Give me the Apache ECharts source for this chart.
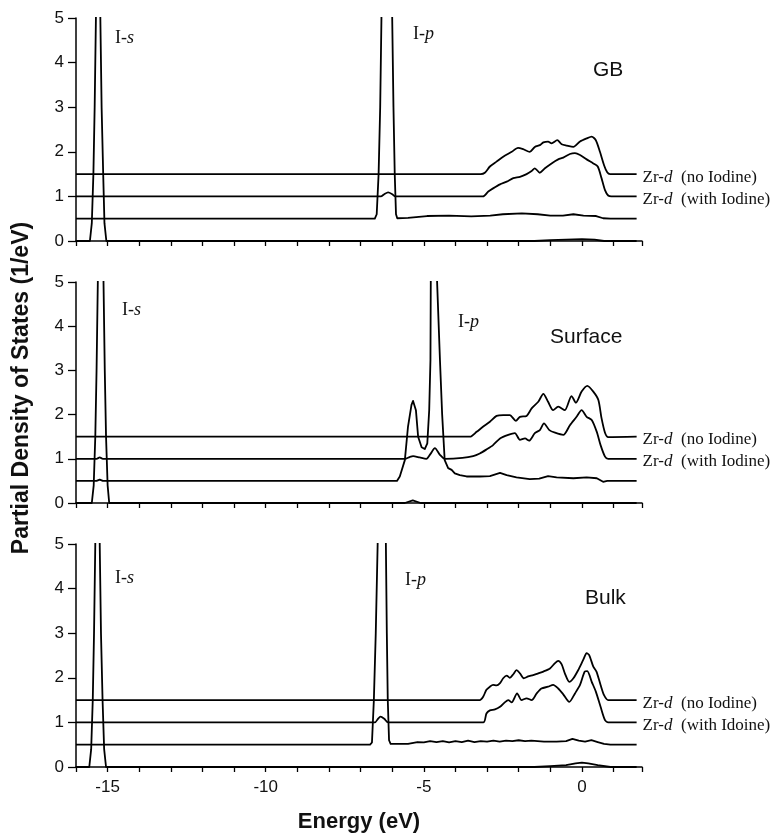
<!DOCTYPE html>
<html>
<head>
    <meta charset="UTF-8">
    <title>Zr PDOS</title>
    <script src="https://cdn.jsdelivr.net/npm/echarts@6/dist/echarts.min.js"></script>
    <style>
        html, body { margin: 0; padding: 0; background: #fff; }
        #main { width: 784px; height: 838px; }
    </style>
</head>
<body>
<div id="main"></div>
<script>
    // values, [energy eV, plotted PDOS] (curves are offset by 0 / 0.5 / 1 / 1.5)
    const panelNames = ['GB', 'Surface', 'Bulk']
    const xTicks = [-15, -10, -5, 0]
    const yTicks = [0, 1, 2, 3, 4, 5]

    const gbIs = [[-16,0],[-15.56,0],[-15.5,0.4],[-15.45,1.5],[-15.41,3],[-15.37,5],[-15.3,30],[-15.23,5],[-15.19,3],[-15.14,1.5],[-15.1,0.4],[-15.04,0],
        [-1.5,0],[-1.0,0.02],[-0.5,0.03],[0,0.04],[0.4,0.03],[0.7,0],[1.73,0]]
    const gbIp = [[-16,0.5],[-6.55,0.5],[-6.49,0.6],[-6.43,1.5],[-6.38,3],[-6.34,5],[-6.17,30],[-6.0,5],[-5.96,3],[-5.92,1.5],[-5.88,0.6],[-5.84,0.51],
        [-5.5,0.52],[-4.9,0.56],[-4.2,0.57],[-3.5,0.55],[-2.9,0.57],[-2.5,0.6],[-1.9,0.62],[-1.4,0.6],[-1.0,0.57],[-0.6,0.57],[-0.27,0.6],[0.05,0.57],
        [0.45,0.56],[0.67,0.51],[0.9,0.5],[1.73,0.5]]
    const gbZrWith = [[-16,1],[-6.36,1],[-6.25,1.05],[-6.13,1.09],[-6.0,1.05],[-5.9,1.0],[-3.13,1.0],[-2.96,1.11],[-2.81,1.18],[-2.59,1.27],[-2.38,1.33],
        [-2.17,1.41],[-1.96,1.44],[-1.75,1.5],[-1.59,1.57],[-1.49,1.63],[-1.33,1.53],[-1.17,1.63],[-0.96,1.74],[-0.75,1.83],[-0.59,1.87],[-0.38,1.95],
        [-0.22,1.97],[-0.06,1.93],[0.15,1.83],[0.36,1.74],[0.5,1.67],[0.62,1.41],[0.73,1.14],[0.83,1.02],[0.93,1.0],[1.73,1.0]]
    const gbZrNo = [[-16,1.5],[-3.2,1.5],[-3.07,1.53],[-2.91,1.67],[-2.7,1.78],[-2.49,1.89],[-2.22,2.0],[-2.02,2.09],[-1.86,2.06],[-1.65,2.0],[-1.49,2.11],
        [-1.33,2.15],[-1.22,2.21],[-1.07,2.23],[-0.96,2.19],[-0.78,2.26],[-0.64,2.17],[-0.48,2.14],[-0.27,2.11],[-0.06,2.23],[0.15,2.3],[0.31,2.34],
        [0.44,2.26],[0.57,2.0],[0.7,1.7],[0.8,1.54],[0.89,1.5],[1.73,1.5]]

    const sfIs = [[-16,0],[-15.5,0],[-15.44,0.4],[-15.39,1.5],[-15.35,3],[-15.31,5],[-15.22,30],[-15.13,5],[-15.09,3],[-15.05,1.5],[-15.0,0.4],[-14.95,0],
        [-5.6,0],[-5.35,0.06],[-5.1,0],[1.73,0]]
    const sfIp = [[-16,0.5],[-15.35,0.5],[-15.25,0.53],[-15.15,0.5],[-5.85,0.5],[-5.76,0.6],[-5.6,0.97],[-5.5,1.73],[-5.39,2.22],[-5.34,2.31],[-5.25,2.1],
        [-5.18,1.5],[-5.07,1.26],[-4.97,1.22],[-4.89,1.35],[-4.83,2.1],[-4.79,3.24],[-4.78,5],[-4.68,30],[-4.58,5],[-4.49,3.24],[-4.42,2.0],[-4.34,0.97],
        [-4.23,0.79],[-4.12,0.75],[-4.02,0.67],[-3.86,0.63],[-3.65,0.6],[-3.23,0.6],[-2.91,0.61],[-2.59,0.68],[-2.38,0.63],[-2.07,0.58],[-1.65,0.54],
        [-1.35,0.55],[-1.07,0.61],[-0.8,0.58],[-0.27,0.56],[0.15,0.58],[0.47,0.56],[0.67,0.48],[0.8,0.5],[1.73,0.5]]
    const sfZrWith = [[-16,1],[-15.35,1],[-15.25,1.03],[-15.15,1],[-5.6,1.0],[-5.45,1.04],[-5.34,1.06],[-5.13,1.03],[-4.92,1.0],[-4.8,1.1],[-4.65,1.24],
        [-4.49,1.09],[-4.34,1.0],[-3.78,1.02],[-3.44,1.06],[-3.23,1.12],[-3.02,1.21],[-2.81,1.31],[-2.59,1.46],[-2.33,1.54],[-2.12,1.58],[-1.96,1.43],
        [-1.8,1.46],[-1.67,1.41],[-1.49,1.58],[-1.33,1.65],[-1.2,1.8],[-1.03,1.65],[-0.85,1.59],[-0.59,1.54],[-0.38,1.76],[-0.17,1.95],[-0.01,2.1],
        [0.15,1.95],[0.31,1.88],[0.47,1.61],[0.59,1.31],[0.73,1.05],[0.83,1.0],[1.73,1.0]]
    const sfZrNo = [[-16,1.5],[-3.54,1.5],[-3.33,1.61],[-3.12,1.73],[-2.91,1.84],[-2.7,1.97],[-2.49,1.99],[-2.28,1.99],[-2.09,1.86],[-1.96,1.95],[-1.75,1.97],
        [-1.59,2.14],[-1.38,2.29],[-1.22,2.47],[-1.07,2.29],[-0.91,2.1],[-0.75,2.18],[-0.54,2.1],[-0.33,2.42],[-0.19,2.27],[-0.01,2.52],[0.17,2.65],
        [0.36,2.52],[0.52,2.33],[0.62,1.92],[0.73,1.59],[0.83,1.49],[1.73,1.5]]

    const bkIs = [[-16,0],[-15.58,0],[-15.52,0.4],[-15.47,1.5],[-15.43,3],[-15.39,5],[-15.32,30],[-15.25,5],[-15.21,3],[-15.16,1.5],[-15.11,0.4],[-15.05,0],
        [-1.5,0],[-1.0,0.02],[-0.5,0.04],[-0.2,0.08],[0,0.1],[0.2,0.08],[0.5,0.04],[0.9,0],[1.73,0]]
    const bkIp = [[-16,0.5],[-6.7,0.5],[-6.64,0.55],[-6.58,1.5],[-6.52,3],[-6.46,5],[-6.33,30],[-6.2,5],[-6.17,3],[-6.14,1.5],[-6.1,0.6],[-6.05,0.52],
        [-5.5,0.52],[-5.2,0.56],[-5.0,0.55],[-4.8,0.58],[-4.6,0.56],[-4.4,0.58],[-4.2,0.55],[-4.0,0.58],[-3.8,0.56],[-3.6,0.59],[-3.4,0.56],[-3.2,0.58],
        [-3.0,0.57],[-2.8,0.59],[-2.6,0.57],[-2.4,0.59],[-2.2,0.58],[-2.0,0.6],[-1.8,0.58],[-1.6,0.59],[-1.2,0.57],[-0.8,0.57],[-0.5,0.58],[-0.3,0.63],
        [-0.1,0.59],[0.1,0.57],[0.3,0.6],[0.5,0.56],[0.7,0.52],[0.9,0.5],[1.73,0.5]]
    const bkZrWith = [[-16,1],[-6.55,1],[-6.45,1.08],[-6.37,1.13],[-6.25,1.08],[-6.13,1.0],[-3.12,1.0],[-3.02,1.2],[-2.91,1.27],[-2.75,1.29],[-2.59,1.35],
        [-2.44,1.45],[-2.33,1.5],[-2.22,1.45],[-2.05,1.65],[-1.91,1.5],[-1.75,1.54],[-1.59,1.5],[-1.43,1.65],[-1.28,1.76],[-1.07,1.8],[-0.91,1.84],
        [-0.75,1.76],[-0.59,1.63],[-0.4,1.46],[-0.22,1.65],[-0.06,1.84],[0.09,2.14],[0.17,2.15],[0.31,1.91],[0.44,1.69],[0.59,1.35],[0.73,1.05],
        [0.83,1.0],[1.73,1.0]]
    const bkZrNo = [[-16,1.5],[-3.23,1.5],[-3.12,1.58],[-3.02,1.73],[-2.91,1.8],[-2.81,1.84],[-2.7,1.83],[-2.59,1.88],[-2.49,1.99],[-2.38,2.05],[-2.28,2.0],
        [-2.17,2.08],[-2.07,2.17],[-1.96,2.1],[-1.84,1.99],[-1.7,2.03],[-1.54,2.06],[-1.38,2.1],[-1.22,2.14],[-1.01,2.21],[-0.85,2.33],[-0.75,2.38],
        [-0.64,2.3],[-0.54,2.1],[-0.4,1.91],[-0.27,1.99],[-0.12,2.17],[0.04,2.4],[0.15,2.55],[0.23,2.51],[0.36,2.25],[0.46,2.14],[0.59,1.84],[0.7,1.61],
        [0.83,1.5],[1.73,1.5]]

    const noIodineLabel = ['no Iodine', 'no Iodine', 'no Iodine']
    const withIodineLabel = ['with Iodine', 'with Iodine', 'with Idoine']

    const panels = [
        {is: gbIs, ip: gbIp, zrWith: gbZrWith, zrNo: gbZrNo},
        {is: sfIs, ip: sfIp, zrWith: sfZrWith, zrNo: sfZrNo},
        {is: bkIs, ip: bkIp, zrWith: bkZrWith, zrNo: bkZrNo},
    ]

    const SERIF = '"Liberation Serif", "Times New Roman", serif'
    const SANS = '"Liberation Sans", Arial, sans-serif'
    const gridTops = [18, 282, 544]
    const gridHeights = [223, 221, 223]

    let grids = [], xAxes = [], yAxes = [], series = []
    panels.forEach((p, i) => {
        grids.push({left: 76, width: 566, top: gridTops[i], height: gridHeights[i], outerBoundsMode: 'none'})
        xAxes.push({
            type: 'value', gridIndex: i, min: -16, max: 1.9, interval: 1,
            axisLine: {show: true, onZero: false, lineStyle: {color: '#000', width: 1.5}},
            axisTick: {show: true, length: 5, lineStyle: {color: '#000', width: 1.3}},
            axisLabel: {
                show: i === 2, margin: 12, fontSize: 17, color: '#111', fontFamily: SANS,
                formatter: v => xTicks.indexOf(v) >= 0 ? String(v) : ''
            },
            splitLine: {show: false},
            name: i === 2 ? 'Energy (eV)' : '',
            nameLocation: 'middle', nameGap: 44,
            nameTextStyle: {fontSize: 22, fontWeight: 'bold', color: '#111', fontFamily: SANS}
        })
        yAxes.push({
            type: 'value', gridIndex: i, min: 0, max: 5, interval: 1,
            axisLine: {show: true, onZero: false, lineStyle: {color: '#000', width: 1.5}},
            axisTick: {show: true, length: 8, lineStyle: {color: '#000', width: 1.3}},
            axisLabel: {margin: 12, fontSize: 17, color: '#111', fontFamily: SANS,
                formatter: v => yTicks.indexOf(v) >= 0 ? String(v) : ''},
            splitLine: {show: false}
        })
        let base = {type: 'line', xAxisIndex: i, yAxisIndex: i, showSymbol: false, symbol: 'none',
            smooth: false, lineStyle: {color: '#000', width: 1.8, join: 'round'}, silent: true}
        series.push(Object.assign({}, base, {name: 'I-s ' + i, data: p.is}))
        series.push(Object.assign({}, base, {name: 'I-p ' + i, data: p.ip}))
        let rich = {
            n: {fontFamily: SERIF, fontSize: 17, color: '#111'},
            d: {fontFamily: SERIF, fontSize: 17, color: '#111', fontStyle: 'italic'}
        }
        series.push(Object.assign({}, base, {name: 'Zr-d with ' + i, data: p.zrWith, smooth: 0.25,
            endLabel: {show: true, distance: 6, offset: [0, 3], rich,
                formatter: () => '{n|Zr-}{d|d}{n|  (' + withIodineLabel[i] + ')}'}}))
        series.push(Object.assign({}, base, {name: 'Zr-d no ' + i, data: p.zrNo, smooth: 0.25,
            endLabel: {show: true, distance: 6, offset: [0, 3], rich,
                formatter: () => '{n|Zr-}{d|d}{n|  (' + noIodineLabel[i] + ')}'}}))
    })

    // orbital / panel annotations
    const orbRich = {
        n: {fontFamily: SERIF, fontSize: 18, fill: '#111'},
        o: {fontFamily: SERIF, fontSize: 18, fill: '#111', fontStyle: 'italic'}
    }
    function orbText(x, y, orb) {
        return {type: 'text', x, y, style: {text: '{n|I-}{o|' + orb + '}', rich: orbRich, verticalAlign: 'middle'}}
    }
    function panelText(x, y, txt) {
        return {type: 'text', x, y, style: {text: txt, font: '21px ' + SANS, fill: '#111', verticalAlign: 'middle'}}
    }
    let graphics = [
        orbText(115, 38, 's'), orbText(413, 34, 'p'), panelText(593, 70, panelNames[0]),
        orbText(122, 310, 's'), orbText(458, 322, 'p'), panelText(550, 337, panelNames[1]),
        orbText(115, 578, 's'), orbText(405, 580, 'p'), panelText(585, 598, panelNames[2]),
        {type: 'text', x: 22, y: 388, rotation: Math.PI / 2,
            style: {text: 'Partial Density of States (1/eV)', font: 'bold 23px ' + SANS, fill: '#111',
                align: 'center', verticalAlign: 'middle'}}
    ]

    let chart = echarts.init(document.getElementById('main'), null, {renderer: 'canvas'})
    chart.setOption({
        animation: false,
        backgroundColor: '#fff',
        grid: grids,
        xAxis: xAxes,
        yAxis: yAxes,
        series: series,
        graphic: graphics
    })
</script>
</body>
</html>
